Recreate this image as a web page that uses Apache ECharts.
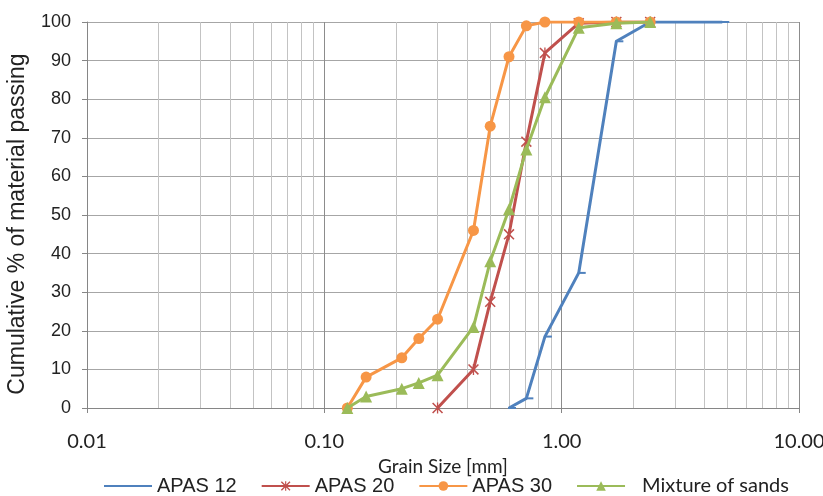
<!DOCTYPE html>
<html>
<head>
<meta charset="utf-8">
<script src="https://cdn.jsdelivr.net/npm/echarts@6/dist/echarts.min.js"></script>
<style>
    html, body { margin: 0; padding: 0; background: #fff; }
    #myChart { width: 823px; height: 496px; }
</style>
</head>
<body>
<div id="myChart"></div>
<script>
    // sieve sizes [mm] and % passing
    var apas12Size = [0.6, 0.71, 0.85, 1.18, 1.7, 2.36, 4.75];
    var apas12Pass = [0, 2.5, 18.5, 35, 95, 100, 100];

    var apas20Size = [0.3, 0.425, 0.5, 0.6, 0.71, 0.85, 1.18, 1.7, 2.36];
    var apas20Pass = [0, 10, 27.5, 45, 69, 92, 99.7, 100, 100];

    var apas30Size = [0.125, 0.15, 0.212, 0.25, 0.3, 0.425, 0.5, 0.6, 0.71, 0.85, 1.18, 1.7, 2.36];
    var apas30Pass = [0, 8, 13, 18, 23, 46, 73, 91, 99, 100, 100, 100, 100];

    var mixSize = [0.125, 0.15, 0.212, 0.25, 0.3, 0.425, 0.5, 0.6, 0.71, 0.85, 1.18, 1.7, 2.36];
    var mixPass = [0, 3, 5, 6.5, 8.5, 21, 38, 51.5, 67, 80.5, 98.5, 99.7, 100];

    var seriesNames = ['APAS 12', 'APAS 20', 'APAS 30', 'Mixture of sands'];
    var colors = ['#4f81bd', '#c0504d', '#f79646', '#9bbb59'];

    // minor log gridlines 2..9 in each decade
    var minorGrid = [0.02, 0.03, 0.04, 0.05, 0.06, 0.07, 0.08, 0.09,
        0.2, 0.3, 0.4, 0.5, 0.6, 0.7, 0.8, 0.9,
        2, 3, 4, 5, 6, 7, 8, 9];

    function pairs(xs, ys) {
        var out = [];
        for (var i = 0; i < xs.length; i++) {
            out.push([xs[i], ys[i]]);
        }
        return out;
    }

    var dashSymbol = 'path://M0,0 L8,0 L8,2 L0,2 Z';
    var starSymbol = 'path://M0,1 L1,0 L10,9 L9,10 Z M9,0 L10,1 L1,10 L0,9 Z M4.4,0 L5.6,0 L5.6,10 L4.4,10 Z';

    var myChart = echarts.init(document.getElementById('myChart'));

    var option = {
        animation: false,
        color: colors,
        grid: {
            left: 87,
            right: 24,
            top: 22,
            bottom: 88,
            outerBoundsMode: 'none'
        },
        legend: {
            top: 471,
            left: 98,
            itemWidth: 48,
            itemHeight: 12,
            itemGap: 24,
            textStyle: {
                fontFamily: 'Liberation Sans',
                fontSize: 20,
                color: '#222',
                rich: {
                    mix: {
                        fontFamily: 'Lato',
                        fontSize: 20,
                        color: '#222',
                        padding: [0, 0, 0, 12]
                    }
                }
            },
            formatter: function (name) {
                return name === 'Mixture of sands' ? '{mix|' + name + '}' : name;
            },
            data: [
                { name: 'APAS 12', itemStyle: { opacity: 0 } },
                'APAS 20',
                'APAS 30',
                'Mixture of sands'
            ]
        },
        xAxis: {
            type: 'log',
            min: 0.01,
            max: 10,
            logBase: 10,
            name: 'Grain Size [mm]',
            nameLocation: 'middle',
            nameGap: 47,
            nameTextStyle: {
                fontFamily: 'Lato',
                fontSize: 19,
                color: '#222'
            },
            axisLine: { lineStyle: { color: '#868686', width: 1 } },
            axisTick: { show: true, length: 5, lineStyle: { color: '#868686' } },
            axisLabel: {
                fontFamily: 'Lato',
                fontSize: 20,
                color: '#222',
                margin: 24,
                formatter: function (v) { return Number(v).toFixed(2); }
            },
            splitLine: { show: true, lineStyle: { color: '#8c8c8c', width: 1 } }
        },
        yAxis: {
            type: 'value',
            min: 0,
            max: 100,
            interval: 10,
            name: 'Cumulative % of material passing',
            nameLocation: 'middle',
            nameGap: 58,
            nameTextStyle: {
                fontFamily: 'Liberation Sans',
                fontSize: 23,
                color: '#222',
                padding: [0, 18, 0, 0]
            },
            axisLine: { show: true, lineStyle: { color: '#868686' } },
            axisTick: { show: true, length: 5, lineStyle: { color: '#868686' } },
            axisLabel: {
                fontFamily: 'Liberation Sans',
                fontSize: 18,
                color: '#222',
                margin: 16
            },
            splitLine: { show: true, lineStyle: { color: '#a6a6a6', width: 1 } }
        },
        series: [
            {
                name: 'APAS 12',
                type: 'line',
                data: pairs(apas12Size, apas12Pass),
                symbol: dashSymbol,
                symbolSize: [8, 2],
                symbolOffset: [3, 0],
                lineStyle: { width: 3 },
                itemStyle: { color: colors[0] },
                z: 3,
                markLine: {
                    silent: true,
                    symbol: ['none', 'none'],
                    label: { show: false },
                    lineStyle: { color: '#c3c3c3', width: 1, type: 'solid' },
                    emphasis: { disabled: true },
                    data: minorGrid.map(function (v) { return { xAxis: v }; }),
                    z: 1
                }
            },
            {
                name: 'APAS 20',
                type: 'line',
                data: pairs(apas20Size, apas20Pass),
                symbol: starSymbol,
                symbolSize: 11,
                lineStyle: { width: 3 },
                itemStyle: { color: colors[1] },
                z: 4
            },
            {
                name: 'APAS 30',
                type: 'line',
                data: pairs(apas30Size, apas30Pass),
                symbol: 'circle',
                symbolSize: 11,
                lineStyle: { width: 3 },
                itemStyle: { color: colors[2] },
                z: 5
            },
            {
                name: 'Mixture of sands',
                type: 'line',
                data: pairs(mixSize, mixPass),
                symbol: 'triangle',
                symbolSize: 12,
                lineStyle: { width: 3 },
                itemStyle: { color: colors[3] },
                z: 6
            }
        ]
    };

    myChart.setOption(option);
</script>
</body>
</html>
